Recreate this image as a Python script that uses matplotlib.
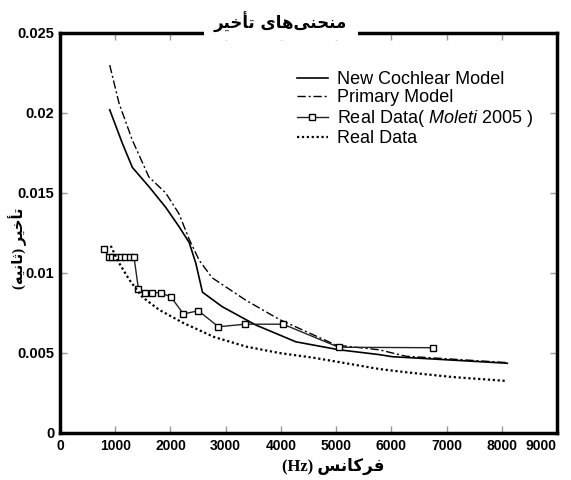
import matplotlib
matplotlib.use('Agg')
import matplotlib.pyplot as plt
from matplotlib.patches import Rectangle
from matplotlib.ticker import FuncFormatter

plt.rcParams['font.family'] = ['Liberation Sans', 'DejaVu Sans']
plt.rcParams['mathtext.fontset'] = 'custom'
plt.rcParams['mathtext.rm'] = 'Liberation Sans'
plt.rcParams['mathtext.it'] = 'Liberation Sans:italic'

# New Cochlear Model
new_f = [900, 1130, 1310, 1610, 1915, 2155, 2340, 2460, 2580, 2935, 3545, 4270, 5055, 5780, 6015, 8100]
new_d = [0.0202, 0.0181, 0.0166, 0.0154, 0.0141, 0.0129, 0.0119, 0.0106, 0.0088, 0.0079,
         0.00675, 0.0057, 0.0052, 0.0049, 0.00477, 0.00436]

# Primary Model
prim_f = [900, 1070, 1310, 1610, 1915, 2155, 2340, 2520, 2755, 3365, 3970, 4995, 5780, 6260, 8100]
prim_d = [0.0230, 0.0206, 0.0183, 0.0160, 0.0150, 0.0137, 0.0121, 0.0108, 0.0097, 0.0083,
          0.0071, 0.0055, 0.0052, 0.0048, 0.0044]

# Real Data (Moleti 2005)
mol_f = [800, 880, 950, 1020, 1100, 1180, 1260, 1340, 1420, 1535, 1675, 1825, 2010, 2235,
         2505, 2870, 3350, 4040, 5045, 6750]
mol_d = [0.0115, 0.0110, 0.0110, 0.0110, 0.0110, 0.0110, 0.0110, 0.0110, 0.0090, 0.00877,
         0.00877, 0.00877, 0.0085, 0.00744, 0.00764, 0.00664, 0.0068, 0.0068, 0.00536, 0.00533]

# Real Data
real_f = [920, 1040, 1250, 1490, 1795, 2220, 2790, 3370, 3970, 4600, 5175, 5780, 6260, 7100, 8100]
real_d = [0.0117, 0.0108, 0.0096, 0.0085, 0.0077, 0.0069, 0.0060, 0.0054, 0.0050, 0.0047,
          0.00436, 0.0040, 0.0038, 0.0035, 0.00325]

x_ticks = [0, 1000, 2000, 3000, 4000, 5000, 6000, 7000, 8000, 9000]
y_ticks = [0, 0.005, 0.01, 0.015, 0.02, 0.025]

# pre-shaped Persian text (visual order)
title_txt = '\uFEAE\uFEF4\uFEA7\uFE84\uFE97 \uFEEF\uFE8E\uFEEB\uFEF0\uFEE8\uFEA4\uFEE8\uFEE3'
ylab_txt = '(\uFEEA\uFEF4\uFEE7\uFE8E\uFE9B) \uFEAE\uFEF4\uFEA7\uFE84\uFE97'
xlab_txt = '(Hz) \uFEB2\uFEE7\uFE8E\uFB90\uFEAE\uFED3'

fig = plt.figure(figsize=(5.71, 4.80), dpi=100)
ax = fig.add_axes([60/571, 47/480, 497/571, 400/480])

ax.plot(new_f, new_d, color='black', lw=1.2, label='New Cochlear Model')
ax.plot(prim_f, prim_d, color='black', lw=1.0, linestyle=(0, (6, 2, 1.5, 2)), label='Primary Model')
ax.plot(mol_f, mol_d, color='#222222', lw=1.0, marker='s', ms=5, mfc='white', mec='black',
        mew=1.0, label=r'Real Data$\mathit{(\ Moleti\ 2005\ )}$')
ax.plot(real_f, real_d, color='black', lw=1.6, linestyle=(0, (1, 1.2)), label='Real Data')

ax.set_xlim(0, 9000)
ax.set_ylim(0, 0.025)
ax.set_xticks(x_ticks)
ax.set_yticks(y_ticks)
ax.xaxis.set_major_formatter(FuncFormatter(lambda v, p: '%d' % v))
ax.yaxis.set_major_formatter(FuncFormatter(lambda v, p: '%g' % v))
ax.tick_params(direction='in', length=5, width=1, color='#999999', top=True, right=True,
               labelsize=10.5, pad=4)
ax.tick_params(axis='x', labelsize=10)
for lab in ax.get_xticklabels() + ax.get_yticklabels():
    lab.set_fontweight('bold')
# last x label sits just inside the picture edge
ax.get_xticklabels()[-1].set_horizontalalignment('right')
ax.get_xticklabels()[-1].set_x(9000)
for sp in ax.spines.values():
    sp.set_linewidth(2.5)

leg = ax.legend(loc='upper left', bbox_to_anchor=(297/571, 1 - 71/480),
                bbox_transform=fig.transFigure, frameon=False, fontsize=13,
                handlelength=1.7, handletextpad=0.5, labelspacing=0.08,
                borderpad=0, borderaxespad=0)

# white gap in the top frame behind the title
fig.patches.append(Rectangle((204/571, 1 - 40/480), 154/571, 40/480,
                             transform=fig.transFigure, facecolor='white',
                             edgecolor='none', zorder=5))
fig.text(280/571, 1 - 22/480, title_txt, ha='center', va='center', fontsize=12,
         fontweight='bold', family=['DejaVu Sans'], zorder=6)
fig.text(18/571, 1 - 248/480, ylab_txt, ha='center', va='center', rotation=90,
         fontsize=10.5, fontweight='bold', family=['Liberation Serif', 'DejaVu Sans'])
fig.text(333/571, 1 - 466/480, xlab_txt, ha='center', va='center', fontsize=12,
         fontweight='bold', family=['Liberation Serif', 'DejaVu Sans'])

fig.savefig('out.png', dpi=100)
